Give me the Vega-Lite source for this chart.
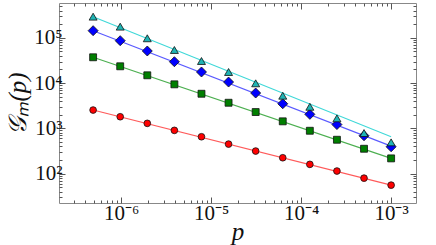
{
  "$schema": "https://vega.github.io/schema/vega-lite/v6.json",
  "width": 357,
  "height": 200,
  "autosize": "none",
  "padding": {"left": 59, "top": 3, "right": 20, "bottom": 42},
  "background": "white",
  "config": {
    "view": {"stroke": "#888888", "strokeWidth": 1},
    "axis": {"grid": false, "domainColor": "#888888", "tickColor": "#555555", "labelFont": "Liberation Serif", "titleFont": "Liberation Serif", "labelColor": "#111", "titleColor": "#111"}
  },
  "datasets": {
    "pts": [
      {"s": "a", "p": 4.8828e-7, "g": 2540},
      {"s": "a", "p": 9.7656e-7, "g": 1806},
      {"s": "a", "p": 1.9531e-6, "g": 1290},
      {"s": "a", "p": 3.9063e-6, "g": 903},
      {"s": "a", "p": 7.8125e-6, "g": 652},
      {"s": "a", "p": 1.5625e-5, "g": 449},
      {"s": "a", "p": 3.125e-5, "g": 315},
      {"s": "a", "p": 6.25e-5, "g": 224},
      {"s": "a", "p": 1.25e-4, "g": 160},
      {"s": "a", "p": 2.5e-4, "g": 114},
      {"s": "a", "p": 5e-4, "g": 79.4},
      {"s": "a", "p": 1e-3, "g": 55.6},
      {"s": "b", "p": 4.8828e-7, "g": 37240},
      {"s": "b", "p": 9.7656e-7, "g": 23550},
      {"s": "b", "p": 1.9531e-6, "g": 14890},
      {"s": "b", "p": 3.9063e-6, "g": 9400},
      {"s": "b", "p": 7.8125e-6, "g": 5820},
      {"s": "b", "p": 1.5625e-5, "g": 3680},
      {"s": "b", "p": 3.125e-5, "g": 2294},
      {"s": "b", "p": 6.25e-5, "g": 1430},
      {"s": "b", "p": 1.25e-4, "g": 885},
      {"s": "b", "p": 2.5e-4, "g": 560},
      {"s": "b", "p": 5e-4, "g": 354},
      {"s": "b", "p": 1e-3, "g": 217},
      {"s": "c", "p": 4.8828e-7, "g": 144200},
      {"s": "c", "p": 9.7656e-7, "g": 86700},
      {"s": "c", "p": 1.9531e-6, "g": 51300},
      {"s": "c", "p": 3.9063e-6, "g": 29730},
      {"s": "c", "p": 7.8125e-6, "g": 17610},
      {"s": "c", "p": 1.5625e-5, "g": 10570},
      {"s": "c", "p": 3.125e-5, "g": 6040},
      {"s": "c", "p": 6.25e-5, "g": 3500},
      {"s": "c", "p": 1.25e-4, "g": 2040},
      {"s": "c", "p": 2.5e-4, "g": 1214},
      {"s": "c", "p": 5e-4, "g": 686},
      {"s": "c", "p": 1e-3, "g": 392},
      {"s": "d", "p": 4.8828e-7, "g": 294400},
      {"s": "d", "p": 9.7656e-7, "g": 177000},
      {"s": "d", "p": 1.9531e-6, "g": 98000},
      {"s": "d", "p": 3.9063e-6, "g": 54000},
      {"s": "d", "p": 7.8125e-6, "g": 30800},
      {"s": "d", "p": 1.5625e-5, "g": 17600},
      {"s": "d", "p": 3.125e-5, "g": 9900},
      {"s": "d", "p": 6.25e-5, "g": 5270},
      {"s": "d", "p": 1.25e-4, "g": 3000},
      {"s": "d", "p": 2.5e-4, "g": 1665},
      {"s": "d", "p": 5e-4, "g": 787},
      {"s": "d", "p": 1e-3, "g": 490}
    ],
    "fits": [
      {"s": "a", "p": 4.8828e-7, "g": 2540},
      {"s": "a", "p": 1e-3, "g": 55.6},
      {"s": "b", "p": 4.8828e-7, "g": 37240},
      {"s": "b", "p": 1e-3, "g": 217},
      {"s": "c", "p": 4.8828e-7, "g": 144200},
      {"s": "c", "p": 1e-3, "g": 405},
      {"s": "d", "p": 4.8828e-7, "g": 294400},
      {"s": "d", "p": 1e-3, "g": 652}
    ]
  },
  "layer": [
    {
      "data": {"name": "fits"},
      "mark": {"type": "line", "strokeWidth": 1.1, "clip": true},
      "encoding": {
        "x": {
          "field": "p", "type": "quantitative",
          "scale": {"type": "log", "domain": [2.04e-7, 1.89e-3], "nice": false},
          "axis": {
            "orient": "bottom",
            "values": [3e-7, 4e-7, 5e-7, 6e-7, 7e-7, 8e-7, 9e-7, 1e-6, 2e-6, 3e-6, 4e-6, 5e-6, 6e-6, 7e-6, 8e-6, 9e-6, 1e-5, 2e-5, 3e-5, 4e-5, 5e-5, 6e-5, 7e-5, 8e-5, 9e-5, 1e-4, 2e-4, 3e-4, 4e-4, 5e-4, 6e-4, 7e-4, 8e-4, 9e-4, 1e-3],
            "labelExpr": "abs(log(datum.value)/LN10 - round(log(datum.value)/LN10)) > 0.001 ? '' : round(log(datum.value)/LN10) == -6 ? '10⁻⁶' : round(log(datum.value)/LN10) == -5 ? '10⁻⁵' : round(log(datum.value)/LN10) == -4 ? '10⁻⁴' : '10⁻³'",
            "tickSize": {"condition": {"test": "abs(log(datum.value)/LN10 - round(log(datum.value)/LN10)) < 0.001", "value": -6}, "value": -3},
            "labelFontSize": 21,
            "labelPadding": 5,
            "labelFlush": false,
            "labelOverlap": false,
            "domain": false,
            "title": "p",
            "titleFontSize": 25,
            "titleFontStyle": "italic",
            "titleFontWeight": "normal",
            "titlePadding": -7
          }
        },
        "y": {
          "field": "g", "type": "quantitative",
          "scale": {"type": "log", "domain": [22.4, 590000], "nice": false},
          "axis": {
            "orient": "left",
            "values": [30, 40, 50, 60, 70, 80, 90, 100, 200, 300, 400, 500, 600, 700, 800, 900, 1000, 2000, 3000, 4000, 5000, 6000, 7000, 8000, 9000, 10000, 20000, 30000, 40000, 50000, 60000, 70000, 80000, 90000, 100000, 200000, 300000, 400000, 500000],
            "labelExpr": "abs(log(datum.value)/LN10 - round(log(datum.value)/LN10)) > 0.001 ? '' : round(log(datum.value)/LN10) == 2 ? '10²' : round(log(datum.value)/LN10) == 3 ? '10³' : round(log(datum.value)/LN10) == 4 ? '10⁴' : '10⁵'",
            "tickSize": {"condition": {"test": "abs(log(datum.value)/LN10 - round(log(datum.value)/LN10)) < 0.001", "value": -6}, "value": -3},
            "labelFontSize": 21,
            "labelPadding": 3,
            "labelFlush": false,
            "labelOverlap": false,
            "domain": false,
            "title": "𝒢ₘ(p)",
            "titleFontSize": 25,
            "titleFontStyle": "italic",
            "titleFontWeight": "normal",
            "titlePadding": 3
          }
        },
        "color": {
          "field": "s", "type": "nominal",
          "scale": {"domain": ["a", "b", "c", "d"], "range": ["#ff5a5a", "#4caf50", "#5a5aff", "#40d8d8"]},
          "legend": null
        },
        "detail": {"field": "s"}
      }
    },
    {
      "data": {"name": "pts"},
      "mark": {"type": "point", "filled": true, "stroke": "#111111", "strokeWidth": 0.8, "fillOpacity": 1, "opacity": 1},
      "encoding": {
        "x": {
          "field": "p", "type": "quantitative",
          "scale": {"type": "log", "domain": [2.04e-7, 1.89e-3], "nice": false},
          "axis": {
            "orient": "top",
            "values": [3e-7, 4e-7, 5e-7, 6e-7, 7e-7, 8e-7, 9e-7, 1e-6, 2e-6, 3e-6, 4e-6, 5e-6, 6e-6, 7e-6, 8e-6, 9e-6, 1e-5, 2e-5, 3e-5, 4e-5, 5e-5, 6e-5, 7e-5, 8e-5, 9e-5, 1e-4, 2e-4, 3e-4, 4e-4, 5e-4, 6e-4, 7e-4, 8e-4, 9e-4, 1e-3],
            "labels": false,
            "tickSize": {"condition": {"test": "abs(log(datum.value)/LN10 - round(log(datum.value)/LN10)) < 0.001", "value": -6}, "value": -3},
            "domain": false,
            "title": null
          }
        },
        "y": {
          "field": "g", "type": "quantitative",
          "scale": {"type": "log", "domain": [22.4, 590000], "nice": false},
          "axis": {
            "orient": "right",
            "values": [30, 40, 50, 60, 70, 80, 90, 100, 200, 300, 400, 500, 600, 700, 800, 900, 1000, 2000, 3000, 4000, 5000, 6000, 7000, 8000, 9000, 10000, 20000, 30000, 40000, 50000, 60000, 70000, 80000, 90000, 100000, 200000, 300000, 400000, 500000],
            "labels": false,
            "tickSize": {"condition": {"test": "abs(log(datum.value)/LN10 - round(log(datum.value)/LN10)) < 0.001", "value": -6}, "value": -3},
            "domain": false,
            "title": null
          }
        },
        "fill": {
          "field": "s", "type": "nominal",
          "scale": {"domain": ["a", "b", "c", "d"], "range": ["#ff0000", "#007f00", "#0000ff", "#1fb4b4"]},
          "legend": null
        },
        "shape": {
          "field": "s", "type": "nominal",
          "scale": {"domain": ["a", "b", "c", "d"], "range": ["circle", "square", "diamond", "triangle-up"]},
          "legend": null
        },
        "size": {
          "field": "s", "type": "ordinal",
          "scale": {"type": "ordinal", "domain": ["a", "b", "c", "d"], "range": [45, 48, 100, 64]},
          "legend": null
        }
      }
    }
  ],
  "resolve": {"axis": {"x": "independent", "y": "independent"}}
}
